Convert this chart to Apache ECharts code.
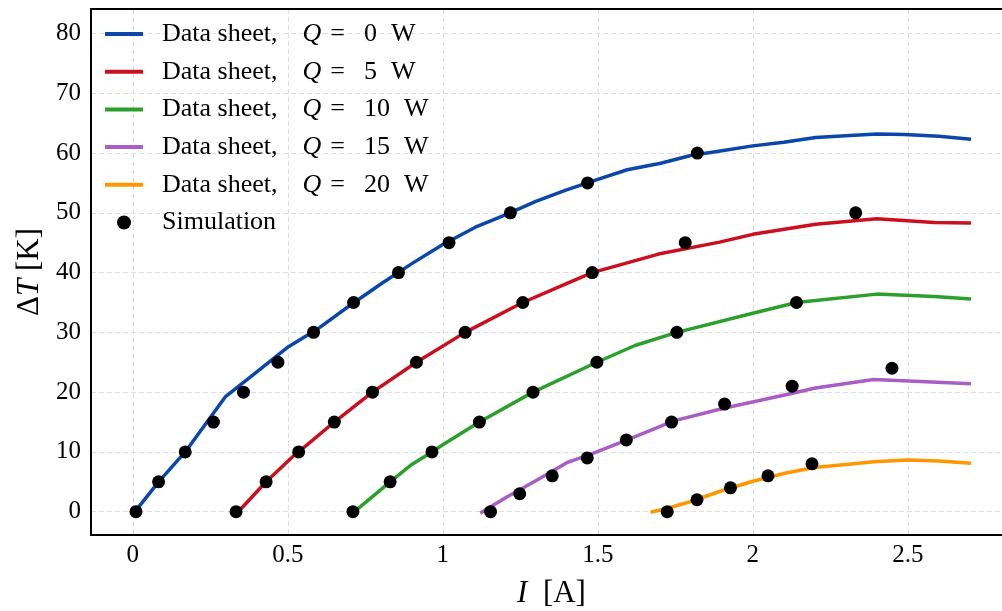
<!DOCTYPE html>
<html>
<head>
<meta charset="utf-8">
<script src="https://cdn.jsdelivr.net/npm/echarts@6/dist/echarts.min.js"></script>
<style>
html, body { margin: 0; padding: 0; background: #fff; }
#chart { width: 1002px; height: 611px; }
</style>
</head>
<body>
<div id="chart"></div>
<script>
// data sheet curves, current I [A] and temperature difference dT [K]
var q0X = [0.007, 0.083, 0.169, 0.298, 0.40, 0.502, 0.60, 0.70, 0.80, 0.90, 1.0, 1.105, 1.2, 1.30, 1.397, 1.50, 1.595, 1.703, 1.80, 1.90, 2.0, 2.10, 2.203, 2.30, 2.40, 2.49, 2.60, 2.704];
var q0Y = [0, 5, 10, 19.2, 23.4, 27.6, 30.7, 34.5, 38.1, 41.5, 44.7, 47.6, 49.6, 51.9, 53.8, 55.6, 57.2, 58.3, 59.6, 60.4, 61.2, 61.8, 62.6, 62.9, 63.2, 63.1, 62.8, 62.3];

var q5X = [0.34, 0.43, 0.518, 0.535, 0.65, 0.773, 0.915, 1.072, 1.258, 1.397, 1.482, 1.696, 1.893, 2.0, 2.203, 2.40, 2.585, 2.704];
var q5Y = [0, 5, 9.3, 10, 15, 20, 25, 30, 35, 38.1, 40, 43.1, 45.1, 46.4, 48.1, 49.0, 48.4, 48.3];

var q10X = [0.715, 0.83, 0.90, 0.965, 1.0, 1.118, 1.291, 1.497, 1.62, 1.755, 2.0, 2.141, 2.40, 2.585, 2.704];
var q10Y = [0, 5, 7.9, 10, 11.2, 15, 20, 25, 27.8, 30, 33.2, 35, 36.4, 36.0, 35.6];

var q15X = [1.121, 1.208, 1.304, 1.40, 1.476, 1.595, 1.745, 1.906, 2.11, 2.202, 2.39, 2.541, 2.704];
var q15Y = [-0.2, 2.5, 5.3, 8.2, 9.6, 12.0, 15.2, 17.3, 19.6, 20.7, 22.1, 21.8, 21.4];

var q20X = [1.67, 1.72, 1.80, 1.90, 2.0, 2.1, 2.197, 2.30, 2.39, 2.498, 2.60, 2.704];
var q20Y = [-0.1, 0.5, 1.7, 3.5, 5.1, 6.4, 7.4, 7.9, 8.35, 8.65, 8.5, 8.1];

// simulation points
var simX = [0.01, 0.083, 0.169, 0.26, 0.357, 0.468, 0.583, 0.712, 0.857, 1.02, 1.218, 1.467, 1.821,
    0.333, 0.43, 0.535, 0.65, 0.773, 0.915, 1.072, 1.258, 1.482, 1.782, 2.332,
    0.71, 0.83, 0.965, 1.118, 1.291, 1.497, 1.755, 2.141,
    1.154, 1.248, 1.353, 1.466, 1.592, 1.738, 1.909, 2.127, 2.449,
    1.724, 1.82, 1.928, 2.049, 2.191];
var simY = [0, 5, 10, 15, 20, 25, 30, 35, 40, 45, 50, 55, 60,
    0, 5, 10, 15, 20, 25, 30, 35, 40, 45, 50,
    0, 5, 10, 15, 20, 25, 30, 35,
    0, 3, 6, 9, 12, 15, 18, 21, 24,
    0, 2, 4, 6, 8];

var heatLoads = ['0', '5', '10', '15', '20'];
var seriesNames = ['Data sheet, Q = 0 W', 'Data sheet, Q = 5 W', 'Data sheet, Q = 10 W', 'Data sheet, Q = 15 W', 'Data sheet, Q = 20 W'];
var simName = 'Simulation';
var xTicks = [0, 0.5, 1, 1.5, 2, 2.5];
var yTicks = [0, 10, 20, 30, 40, 50, 60, 70, 80];

var colors = ['#0b47ab', '#cc0f1e', '#2ca02c', '#a95ec5', '#ff9800'];
var font = 'Liberation Serif';
var xMin = -0.135, xMax = 2.804;

var pairs = function(xs, ys) {
    var out = [];
    for (var i = 0; i < xs.length; i++) {
        out.push([xs[i], ys[i]]);
    }
    return out;
};

var curves = [pairs(q0X, q0Y), pairs(q5X, q5Y), pairs(q10X, q10Y), pairs(q15X, q15Y), pairs(q20X, q20Y)];

var txt = { fontFamily: font, fontSize: 26, color: '#000', lineHeight: 25 };
var rich = {
    r: txt,
    i: Object.assign({}, txt, { fontStyle: 'italic', padding: [0, 0, 0, 25] }),
    e: Object.assign({}, txt, { padding: [0, 19, 0, 9] }),
    w: Object.assign({}, txt, { padding: [0, 0, 0, 14] })
};
var nameRich = {
    r: { fontFamily: font, fontSize: 31, color: '#000' },
    i: { fontFamily: font, fontSize: 31, fontStyle: 'italic', color: '#000' }
};

var legendData = [];
var series = [];
for (var k = 0; k < curves.length; k++) {
    legendData.push({ name: seriesNames[k], icon: 'path://M0,0L38,0L38,4L0,4Z' });
    series.push({
        name: seriesNames[k],
        type: 'line',
        data: curves[k],
        symbol: 'none',
        color: colors[k],
        lineStyle: { width: 3.5, color: colors[k], join: 'round' },
        z: 2
    });
}
legendData.push({ name: simName, icon: 'circle' });
series.push({
    name: simName,
    type: 'scatter',
    data: pairs(simX, simY),
    symbol: 'circle',
    symbolSize: 13,
    color: '#000',
    itemStyle: { color: '#000', opacity: 1 },
    z: 5
});

var chart = echarts.init(document.getElementById('chart'));
chart.setOption({
    backgroundColor: '#fff',
    animation: false,
    grid: { left: 91, top: 9, right: 0, height: 526, show: false, outerBoundsMode: 'none', containLabel: false },
    legend: {
        orient: 'vertical',
        left: 105,
        top: 21,
        padding: 0,
        itemWidth: 38,
        itemHeight: 14,
        itemGap: 11.7,
        data: legendData,
        textStyle: { rich: rich, padding: [0, 0, 0, 14] },
        formatter: function(name) {
            var idx = seriesNames.indexOf(name);
            if (idx < 0) return '{r|' + name + '}';
            return '{r|Data sheet,}{i|Q}{e|=}{r|' + heatLoads[idx] + '}{w|W}';
        }
    },
    xAxis: [{
        type: 'value',
        min: xMin,
        max: xMax,
        name: '{i|I}{r|  [A]}',
        nameLocation: 'middle',
        nameGap: 43,
        nameTextStyle: { rich: nameRich, padding: [0, 0, 0, 10] },
        axisLine: { onZero: false, lineStyle: { color: '#000', width: 2 } },
        axisTick: { show: false, customValues: xTicks },
        axisLabel: { customValues: xTicks, fontFamily: font, fontSize: 25, color: '#000', margin: 8 },
        splitLine: { show: true, lineStyle: { color: '#dedede', width: 1, type: [5, 3] } }
    }, {
        // top frame line only
        type: 'value',
        position: 'top',
        min: xMin,
        max: xMax,
        axisLine: { onZero: false, lineStyle: { color: '#000', width: 2 } },
        axisTick: { show: false },
        axisLabel: { show: false },
        splitLine: { show: false }
    }],
    yAxis: {
        type: 'value',
        min: -3.9,
        max: 84.1,
        name: '{r|Δ}{i|T}{r| [K]}',
        nameLocation: 'middle',
        nameGap: 46,
        nameTextStyle: { rich: nameRich },
        axisLine: { onZero: false, lineStyle: { color: '#000', width: 2 } },
        axisTick: { show: false, customValues: yTicks },
        axisLabel: { customValues: yTicks, fontFamily: font, fontSize: 25, color: '#000', margin: 10 },
        splitLine: { show: true, lineStyle: { color: '#dedede', width: 1, type: [5, 3] } }
    },
    series: series
});
</script>
</body>
</html>
